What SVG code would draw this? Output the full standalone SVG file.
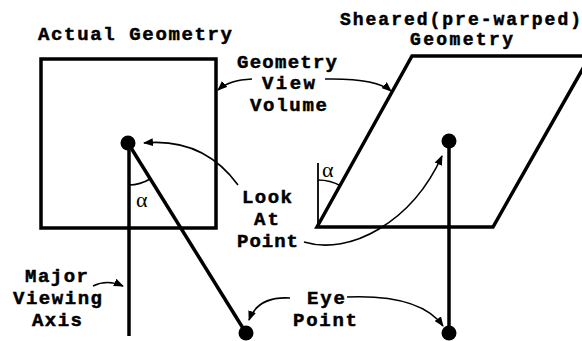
<svg xmlns="http://www.w3.org/2000/svg" width="582" height="341" viewBox="0 0 582 341">
<style>
.t{font-family:"Liberation Mono","Courier New",monospace;font-weight:bold;font-size:19px;fill:#000;stroke:#000;stroke-width:0.5}
.s{font-size:18px}
.a{font-family:"Liberation Serif","Times New Roman",serif;font-size:22px;fill:#000}
.thick{fill:none;stroke:#000;stroke-width:3.5;stroke-linejoin:miter}
.conn{fill:none;stroke:#000;stroke-width:1.6}
.arc{fill:none;stroke:#000;stroke-width:1.6}
</style>
<defs>
<marker id="ah" markerWidth="10" markerHeight="8" refX="9" refY="4" orient="auto" markerUnits="userSpaceOnUse">
<path d="M0,0 L10,4 L0,8 Z" fill="#000"/>
</marker>
</defs>
<rect width="582" height="341" fill="#fff"/>

<g id="actual-geometry">
<text class="t" x="38" y="40" textLength="194" lengthAdjust="spacing">Actual Geometry</text>
<rect class="thick" x="41" y="59" width="175" height="169"/>
<line class="thick" x1="129" y1="143" x2="129" y2="336"/>
<line class="thick" x1="128" y1="143" x2="246" y2="333"/>
<circle cx="128" cy="143" r="7.5" fill="#000"/>
<circle cx="246" cy="333" r="7.5" fill="#000"/>
<path class="arc" d="M129,185 A42,42 0 0 0 150,179"/>
<text class="a" x="136" y="207">α</text>
</g>

<g id="sheared-geometry">
<text class="t s" x="340" y="25" textLength="241" lengthAdjust="spacing">Sheared(pre-warped)</text>
<text class="t s" x="410" y="45" textLength="103" lengthAdjust="spacing">Geometry</text>
<polygon class="thick" points="317,227 412,56 590,56 493,227"/>
<line class="thick" x1="449" y1="141" x2="449" y2="333"/>
<circle cx="449" cy="141" r="7.5" fill="#000"/>
<circle cx="449" cy="333" r="7.5" fill="#000"/>
<line x1="318" y1="163" x2="318" y2="227" stroke="#000" stroke-width="1.8"/>
<path class="arc" d="M318,180 A47,47 0 0 1 341,186"/>
<text class="a" x="322" y="177">α</text>
</g>

<g id="label-view-volume">
<text class="t" x="237" y="68" textLength="100" lengthAdjust="spacing">Geometry</text>
<text class="t" x="262" y="89" textLength="53" lengthAdjust="spacing">View</text>
<text class="t" x="250" y="111" textLength="77" lengthAdjust="spacing">Volume</text>
</g>

<g id="label-look-at">
<text class="t" x="242" y="203" textLength="50" lengthAdjust="spacing">Look</text>
<text class="t" x="254" y="225" textLength="25" lengthAdjust="spacing">At</text>
<text class="t" x="237" y="247" textLength="61" lengthAdjust="spacing">Point</text>
</g>

<g id="label-major-axis">
<text class="t" x="25" y="282" textLength="63" lengthAdjust="spacing">Major</text>
<text class="t" x="13" y="304" textLength="89" lengthAdjust="spacing">Viewing</text>
<text class="t" x="32" y="326" textLength="50" lengthAdjust="spacing">Axis</text>
</g>

<g id="label-eye">
<text class="t" x="307" y="304" textLength="38" lengthAdjust="spacing">Eye</text>
<text class="t" x="293" y="326" textLength="64" lengthAdjust="spacing">Point</text>
</g>

<g id="connectors">
<path class="conn" marker-end="url(#ah)" d="M252,79 Q229,80 218,90"/>
<path class="conn" marker-end="url(#ah)" d="M325,79 Q376,78 391,91"/>
<path class="conn" marker-end="url(#ah)" d="M238,185 C216,155 186,139 144,143"/>
<path class="conn" marker-end="url(#ah)" d="M304,242 C350,256 412,222 442,156"/>
<path class="conn" marker-end="url(#ah)" d="M93,286 Q107,279 123,286"/>
<path class="conn" marker-end="url(#ah)" d="M290,298 Q258,296 249,320"/>
<path class="conn" marker-end="url(#ah)" d="M347,297 Q420,294 443,326"/>
</g>
</svg>
